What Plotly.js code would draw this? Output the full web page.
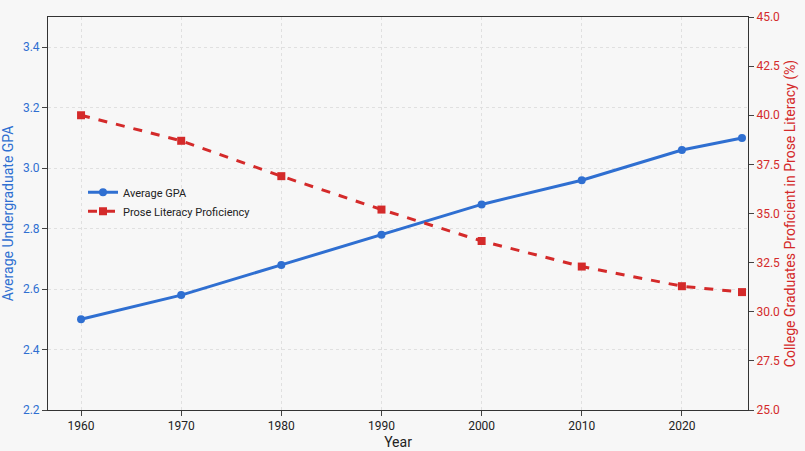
<!DOCTYPE html>
<html>
<head>
<script src="https://cdn.plot.ly/plotly-3.0.1.min.js"></script>
<style>body{margin:0;background:#f7f7f7}</style>
</head>
<body>
<div id="chart" style="width:805px;height:451px"></div>
<script>
const years = [1960, 1970, 1980, 1990, 2000, 2010, 2020, 2026];
const gpa = [2.50, 2.58, 2.68, 2.78, 2.88, 2.96, 3.06, 3.10];
const literacy = [40.0, 38.7, 36.9, 35.2, 33.6, 32.3, 31.3, 31.0];

const blue = "#2f6fd1";
const red = "#d42a2a";

const traceGpa = {
    x: years, y: gpa, name: "Average GPA",
    mode: "lines+markers", type: "scatter",
    line: { color: blue, width: 3 },
    marker: { color: blue, size: 8 }
};
const traceLit = {
    x: years, y: literacy, name: "Prose Literacy Proficiency", yaxis: "y2",
    mode: "lines+markers", type: "scatter",
    line: { color: red, width: 3, dash: "dash" },
    marker: { color: red, size: 8, symbol: "square" }
};

const layout = {
    font: { family: "Roboto, sans-serif", size: 12, color: "#222" },
    paper_bgcolor: "#f7f7f7",
    plot_bgcolor: "#f7f7f7",
    margin: { l: 48, r: 57, t: 17, b: 40 },
    showlegend: true,
    legend: { x: 0.05, y: 0.53, xanchor: "left", yanchor: "middle", bgcolor: "rgba(0,0,0,0)", font: { size: 11 } },
    xaxis: {
        title: { text: "Year", standoff: 4 },
        range: [1956.7, 2026.6],
        tickvals: [1960, 1970, 1980, 1990, 2000, 2010, 2020],
        showline: true, linecolor: "#333", ticks: "outside", ticklen: 5,
        gridcolor: "#e0e0e0", griddash: "dot", zeroline: false, mirror: true
    },
    yaxis: {
        title: { text: "Average Undergraduate GPA", font: { color: blue } },
        range: [2.2, 3.5], dtick: 0.2, tickformat: ".1f",
        tickfont: { color: blue },
        showline: true, linecolor: "#333", ticks: "outside", ticklen: 5,
        gridcolor: "#e0e0e0", griddash: "dot", zeroline: false
    },
    yaxis2: {
        title: { text: "College Graduates Proficient in Prose Literacy (%)", font: { color: red } },
        overlaying: "y", side: "right",
        range: [25, 45], dtick: 2.5, tickformat: ".1f",
        tickfont: { color: red },
        showline: true, linecolor: "#333", ticks: "outside", ticklen: 5,
        showgrid: false, zeroline: false
    }
};

Plotly.newPlot("chart", [traceGpa, traceLit], layout, { displayModeBar: false });
</script>
</body>
</html>
